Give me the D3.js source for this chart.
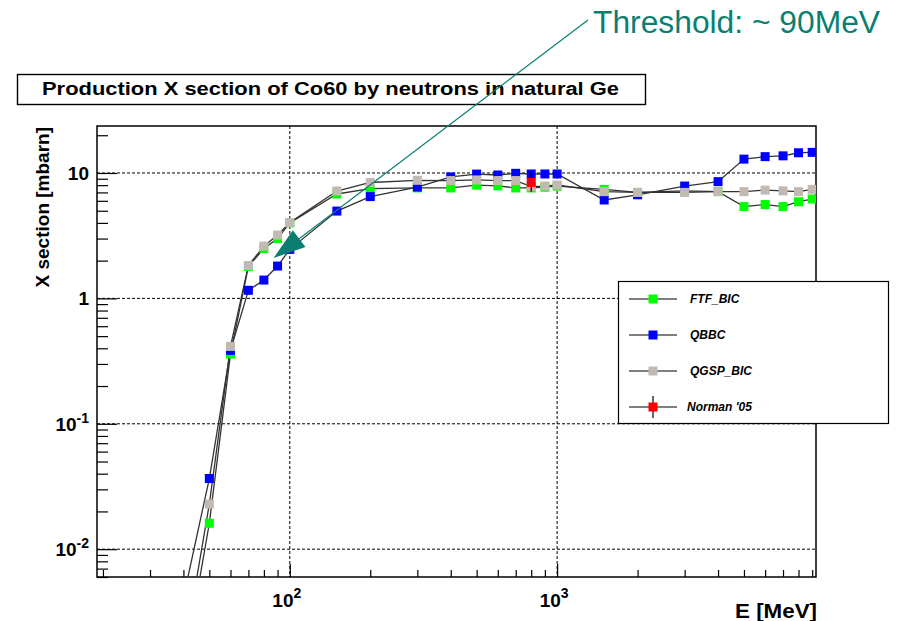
<!DOCTYPE html>
<html>
<head>
<meta charset="utf-8">
<script src="https://cdn.jsdelivr.net/npm/d3@7"></script>
<style>
  body { margin: 0; background: #fff; }
  text { font-family: "Liberation Sans", Arial, Helvetica, sans-serif; }
</style>
</head>
<body>
<div id="chart"></div>
<script>
// energies in MeV (first point lies below the visible y range)
const energies = [40, 50, 60, 70, 80, 90, 100, 150, 200, 300, 400, 500, 600, 700, 800, 900,
  1000, 1500, 2000, 3000, 4000, 5000, 6000, 7000, 8000, 9000];

// cross sections in mbarn
const ftfBic = [0.00105, 0.0161, 0.36, 1.8, 2.5, 3.0, 4.0, 6.8, 7.5, 7.6, 7.6, 8.0, 7.9, 7.6, 7.6, 7.7,
  7.85, 7.4, 7.0, 7.2, 7.1, 5.4, 5.6, 5.4, 5.9, 6.2];
const qbbc = [0.0041, 0.0366, 0.385, 1.16, 1.40, 1.81, 2.46, 4.97, 6.48, 7.73, 9.3, 9.8, 9.64, 9.94, 9.82, 9.82,
  9.82, 6.09, 6.7, 7.87, 8.53, 12.9, 13.5, 13.7, 14.5, 14.6];
const qgspBic = [0.0014, 0.0229, 0.414, 1.83, 2.61, 3.2, 4.02, 7.18, 8.4, 8.74, 8.7, 8.8, 8.7, 8.7, 7.8, 7.87,
  8.02, 7.1, 7.0, 7.0, 7.1, 7.1, 7.3, 7.2, 7.1, 7.4];

// measurement
const normanE = [800];
const normanV = [8.4];
const normanLo = [7.1];
const normanHi = [10.2];

const seriesNames = ['FTF_BIC', 'QBBC', 'QGSP_BIC', "Norman '05"];
const seriesColors = ['#00ff00', '#0000ff', '#c2bab2', '#ff0000'];

const yTicks = [0.01, 0.1, 1, 10];
const yTickLabels = [['10', '-2'], ['10', '-1'], ['1', ''], ['10', '']];
const xTicks = [100, 1000];
const xTickLabels = [['10', '2'], ['10', '3']];

const width = 899;
const height = 621;
const frame = { left: 97, top: 126, right: 816, bottom: 577 };

const svg = d3.select('#chart')
  .append('svg')
  .attr('width', width)
  .attr('height', height)
  .attr('viewBox', [0, 0, width, height]);

const x = d3.scaleLog()
  .domain([19, 9300])
  .range([frame.left, frame.right]);

const y = d3.scaleLog()
  .domain([0.006, 23.7])
  .range([frame.bottom, frame.top]);

// title box
svg.append('rect')
  .attr('x', 17.5).attr('y', 74.5)
  .attr('width', 628).attr('height', 30)
  .attr('fill', '#fff').attr('stroke', '#000').attr('stroke-width', 1.4);
svg.append('text')
  .attr('x', 42).attr('y', 95)
  .attr('font-size', '18px').attr('font-weight', 'bold')
  .attr('textLength', 577).attr('lengthAdjust', 'spacingAndGlyphs')
  .text('Production X section of Co60 by neutrons in natural Ge');

svg.append('defs').append('clipPath').attr('id', 'clip')
  .append('rect')
  .attr('x', frame.left).attr('y', frame.top)
  .attr('width', frame.right - frame.left).attr('height', frame.bottom - frame.top);

// grid
const grid = svg.append('g')
  .attr('stroke', '#000').attr('stroke-width', 1).attr('stroke-dasharray', '3,2');
grid.selectAll('line.gx')
  .data(xTicks)
  .join('line')
    .attr('class', 'gx')
    .attr('x1', d => x(d)).attr('x2', d => x(d))
    .attr('y1', frame.top).attr('y2', frame.bottom);
grid.selectAll('line.gy')
  .data(yTicks)
  .join('line')
    .attr('class', 'gy')
    .attr('x1', frame.left).attr('x2', frame.right)
    .attr('y1', d => y(d)).attr('y2', d => y(d));

// axis ticks (inside the frame, like ROOT)
function logMinor(lo, hi) {
  const out = [];
  for (let p = -3; p <= 4; p++) {
    for (let m = 1; m <= 9; m++) {
      const v = m * Math.pow(10, p);
      if (v >= lo && v <= hi) out.push(v);
    }
  }
  return out;
}

const xAll = logMinor(19, 9300);
const yAll = logMinor(0.006, 23.7);
const isMajor = v => Math.abs(Math.log10(v) - Math.round(Math.log10(v))) < 1e-9;

svg.append('g')
  .attr('transform', `translate(0, ${frame.bottom})`)
  .call(d3.axisBottom(x).tickValues(xAll.filter(v => !isMajor(v))).tickSize(-7).tickFormat(''))
  .call(g => g.select('.domain').remove());
svg.append('g')
  .attr('transform', `translate(0, ${frame.bottom})`)
  .call(d3.axisBottom(x).tickValues(xAll.filter(isMajor)).tickSize(-13).tickFormat(''))
  .call(g => g.select('.domain').remove());
svg.append('g')
  .attr('transform', `translate(${frame.left}, 0)`)
  .call(d3.axisLeft(y).tickValues(yAll.filter(v => !isMajor(v))).tickSize(-11).tickFormat(''))
  .call(g => g.select('.domain').remove());
svg.append('g')
  .attr('transform', `translate(${frame.left}, 0)`)
  .call(d3.axisLeft(y).tickValues(yAll.filter(isMajor)).tickSize(-20).tickFormat(''))
  .call(g => g.select('.domain').remove());
svg.selectAll('.tick line').attr('stroke', '#000').attr('stroke-width', 1.2);

// frame
svg.append('rect')
  .attr('x', frame.left).attr('y', frame.top)
  .attr('width', frame.right - frame.left).attr('height', frame.bottom - frame.top)
  .attr('fill', 'none').attr('stroke', '#000').attr('stroke-width', 1.5);

// tick labels
const yl = svg.append('g').attr('font-size', '19px').attr('font-weight', 'bold').attr('text-anchor', 'end');
yTicks.forEach((t, i) => {
  const txt = yl.append('text').attr('x', 89).attr('y', y(t) + 7);
  txt.append('tspan').text(yTickLabels[i][0]);
  if (yTickLabels[i][1]) {
    txt.append('tspan').attr('dy', -8).attr('font-size', '14px').text(yTickLabels[i][1]);
  }
});
const xl = svg.append('g').attr('font-size', '19px').attr('font-weight', 'bold').attr('text-anchor', 'middle');
xTicks.forEach((t, i) => {
  const txt = xl.append('text').attr('x', x(t) - 3).attr('y', 607);
  txt.append('tspan').text(xTickLabels[i][0]);
  txt.append('tspan').attr('dy', -9).attr('font-size', '14px').text(xTickLabels[i][1]);
});

// axis titles
svg.append('text')
  .attr('x', 817).attr('y', 618)
  .attr('text-anchor', 'end')
  .attr('font-size', '20px').attr('font-weight', 'bold')
  .attr('textLength', 82).attr('lengthAdjust', 'spacingAndGlyphs')
  .text('E [MeV]');
svg.append('text')
  .attr('transform', `translate(49, ${frame.top + 1}) rotate(-90)`)
  .attr('text-anchor', 'end')
  .attr('font-size', '19px').attr('font-weight', 'bold')
  .text('X section [mbarn]');

// data
const plot = svg.append('g').attr('clip-path', 'url(#clip)');
const line = d3.line().x(d => x(d[0])).y(d => y(d[1]));
const allSeries = [ftfBic, qbbc, qgspBic];

allSeries.forEach((vals, k) => {
  const pts = energies.map((e, i) => [e, vals[i]]);
  plot.append('path')
    .datum(pts)
    .attr('fill', 'none')
    .attr('stroke', '#333')
    .attr('stroke-width', 1.3)
    .attr('d', line);
});
allSeries.forEach((vals, k) => {
  const pts = energies.map((e, i) => [e, vals[i]]);
  plot.append('g')
    .selectAll('rect')
    .data(pts)
    .join('rect')
      .attr('x', d => x(d[0]) - 4.5)
      .attr('y', d => y(d[1]) - 4.5)
      .attr('width', 9).attr('height', 9)
      .attr('fill', seriesColors[k]);
});

// Norman '05 point with error bar
plot.append('g')
  .selectAll('line')
  .data(normanE)
  .join('line')
    .attr('x1', d => x(d)).attr('x2', d => x(d))
    .attr('y1', (d, i) => y(normanHi[i])).attr('y2', (d, i) => y(normanLo[i]))
    .attr('stroke', '#000').attr('stroke-width', 1.3);
plot.append('g')
  .selectAll('rect')
  .data(normanE)
  .join('rect')
    .attr('x', d => x(d) - 4.5)
    .attr('y', (d, i) => y(normanV[i]) - 4.5)
    .attr('width', 9).attr('height', 9)
    .attr('fill', seriesColors[3]);

// legend
const legend = svg.append('g');
legend.append('rect')
  .attr('x', 618.5).attr('y', 281.5)
  .attr('width', 270).attr('height', 142)
  .attr('fill', '#fff').attr('stroke', '#000').attr('stroke-width', 1.2);
const legY = d3.scalePoint().domain(seriesNames).range([299, 407]);
seriesNames.forEach((name, k) => {
  const cy = legY(name);
  legend.append('line')
    .attr('x1', 629).attr('x2', 677).attr('y1', cy).attr('y2', cy)
    .attr('stroke', '#000').attr('stroke-width', 1.2);
  if (k === 3) {
    legend.append('line')
      .attr('x1', 653).attr('x2', 653).attr('y1', cy - 11).attr('y2', cy + 11)
      .attr('stroke', '#000').attr('stroke-width', 1.2);
  }
  legend.append('rect')
    .attr('x', 653 - 4.5).attr('y', cy - 4.5)
    .attr('width', 9).attr('height', 9)
    .attr('fill', seriesColors[k]);
  legend.append('text')
    .attr('x', k === 3 ? 687 : 690).attr('y', cy + 4)
    .attr('font-size', '12px').attr('font-weight', 'bold').attr('font-style', 'italic')
    .text(name);
});

// annotation: threshold arrow
const teal = '#0a7f71';
const tip = [x(87), y(2.1)];
const start = [588, 20];
const ang = Math.atan2(tip[1] - start[1], tip[0] - start[0]);
const headLen = 32, headHalf = 10.5;
const base = [tip[0] - headLen * Math.cos(ang), tip[1] - headLen * Math.sin(ang)];
svg.append('line')
  .attr('x1', start[0]).attr('y1', start[1])
  .attr('x2', base[0]).attr('y2', base[1])
  .attr('stroke', teal).attr('stroke-width', 1.2);
svg.append('path')
  .attr('d', d3.line()([
    tip,
    [base[0] + headHalf * Math.sin(ang), base[1] - headHalf * Math.cos(ang)],
    [base[0] - headHalf * Math.sin(ang), base[1] + headHalf * Math.cos(ang)]
  ]) + 'Z')
  .attr('fill', teal);
svg.append('text')
  .attr('x', 593).attr('y', 33)
  .attr('font-size', '31px')
  .attr('textLength', 287).attr('lengthAdjust', 'spacingAndGlyphs')
  .attr('fill', teal)
  .text('Threshold: ~ 90MeV');
</script>
</body>
</html>
